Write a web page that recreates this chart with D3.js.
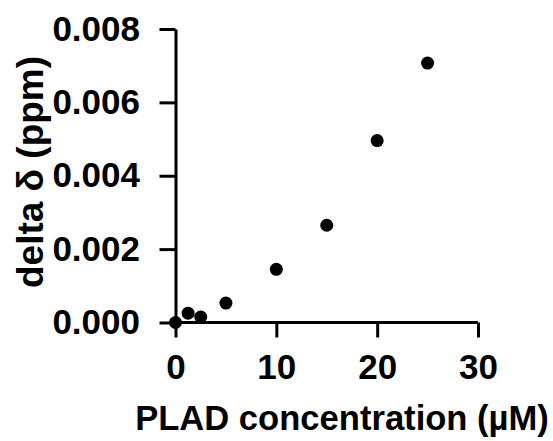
<!DOCTYPE html>
<html><head><meta charset="utf-8">
<script src="https://cdn.jsdelivr.net/npm/d3@7"></script>
<style>body{margin:0;background:#fff}svg{display:block}text{font-family:"Liberation Sans",Arial,sans-serif;font-weight:bold;fill:#000}</style>
</head><body>
<svg id="c" width="553" height="441"></svg>
<script>
const concentrations = [0, 1.25, 2.5, 5, 10, 15, 20, 25];
const deltaValues = [0, 0.000255, 0.000147, 0.00053, 0.00145, 0.00265, 0.00496, 0.00707];
const xTicks = [0, 10, 20, 30];
const yTicks = [0, 0.002, 0.004, 0.006, 0.008];
const xTitle = "PLAD concentration (\u00b5M)";
const yTitle = "delta \u03b4  (ppm)";

const svg = d3.select("#c");
const x = d3.scaleLinear().domain([0, 30]).range([175.5, 478]);
const y = d3.scaleLinear().domain([0, 0.008]).range([322.5, 29]);

const xAxis = svg.append("g").attr("transform", "translate(0,322.5)")
  .call(d3.axisBottom(x).tickValues(xTicks).tickFormat(d3.format("d")).tickSizeOuter(0).tickSizeInner(15).tickPadding(17));
const yAxis = svg.append("g").attr("transform", "translate(175.5,0)")
  .call(d3.axisLeft(y).tickValues(yTicks).tickFormat(d3.format(".3f")).tickSizeOuter(0).tickSizeInner(16).tickPadding(19.5));
[xAxis, yAxis].forEach(g => {
  g.selectAll(".domain").attr("stroke", "#000").attr("stroke-width", 3);
  g.selectAll(".tick line").attr("stroke", "#000").attr("stroke-width", 3);
  g.selectAll(".tick text").style("font-size", "35px").style("font-family", "'Liberation Sans',Arial,sans-serif").style("font-weight", "bold").attr("fill", "#000");
});
xAxis.selectAll(".domain").attr("d", `M${x(0)},0H${x(30)}`);

svg.append("g").selectAll("circle").data(concentrations).join("circle")
  .attr("cx", (d) => x(d)).attr("cy", (d, i) => y(deltaValues[i])).attr("r", 6.5).attr("fill", "#000");

svg.append("text").attr("x", 342).attr("y", 430).attr("text-anchor", "middle")
  .style("font-size", "34.6px").text(xTitle);
svg.append("text").attr("transform", "translate(43,172) rotate(-90)").attr("text-anchor", "middle")
  .style("font-size", "37px").text(yTitle);
</script>
</body></html>
